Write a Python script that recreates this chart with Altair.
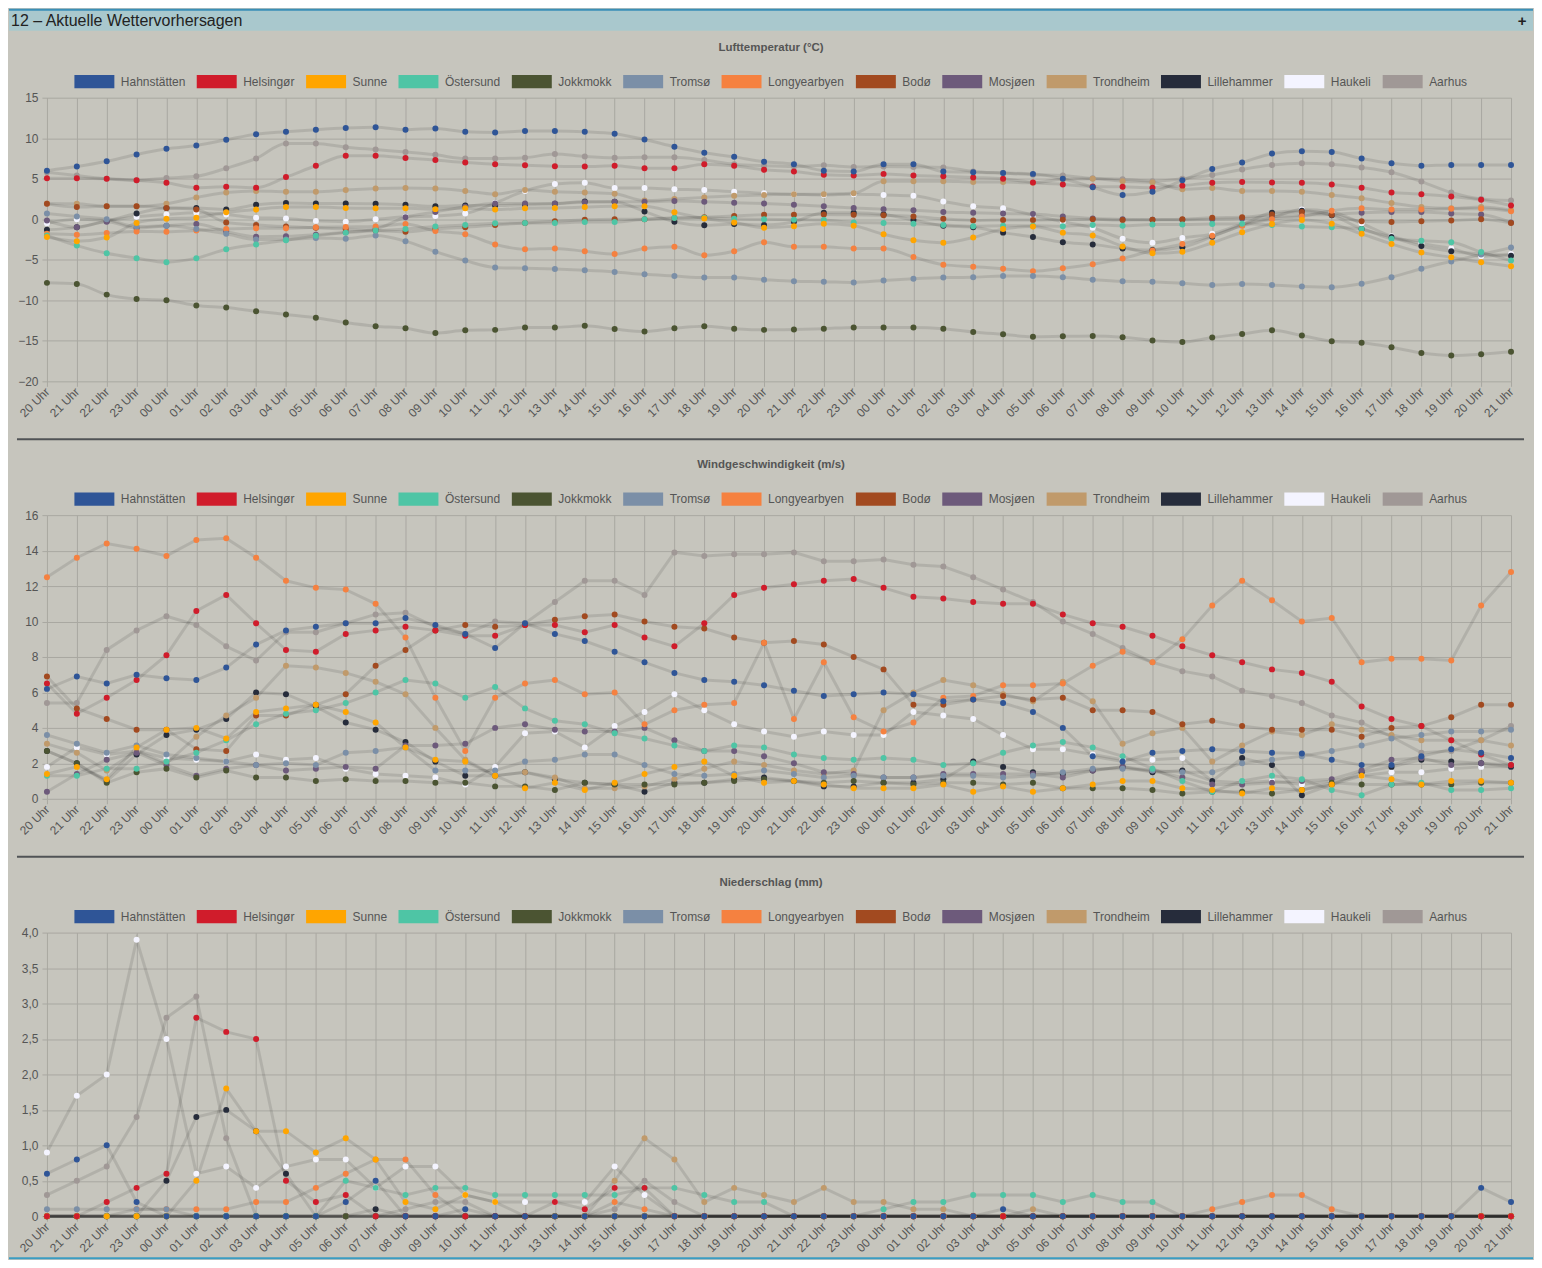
import altair as alt
import pandas as pd

# ---------------- data ----------------
HOUR_LABELS = ["20 Uhr", "21 Uhr", "22 Uhr", "23 Uhr", "00 Uhr", "01 Uhr", "02 Uhr", "03 Uhr", "04 Uhr", "05 Uhr",
               "06 Uhr", "07 Uhr", "08 Uhr", "09 Uhr", "10 Uhr", "11 Uhr", "12 Uhr", "13 Uhr", "14 Uhr", "15 Uhr",
               "16 Uhr", "17 Uhr", "18 Uhr", "19 Uhr", "20 Uhr", "21 Uhr", "22 Uhr", "23 Uhr", "00 Uhr", "01 Uhr",
               "02 Uhr", "03 Uhr", "04 Uhr", "05 Uhr", "06 Uhr", "07 Uhr", "08 Uhr", "09 Uhr", "10 Uhr", "11 Uhr",
               "12 Uhr", "13 Uhr", "14 Uhr", "15 Uhr", "16 Uhr", "17 Uhr", "18 Uhr", "19 Uhr", "20 Uhr", "21 Uhr"]

SERIES = ["Hahnstätten", "Helsingør", "Sunne", "Östersund", "Jokkmokk", "Tromsø", "Longyearbyen",
          "Bodø", "Mosjøen", "Trondheim", "Lillehammer", "Haukeli", "Aarhus"]
COLORS = ["#2f5597", "#d01c2b", "#ffa500", "#4ec5a5", "#4b5432", "#7b8fa7", "#f58140",
          "#a24a20", "#6d5a7b", "#c09a6b", "#262c3b", "#f4f4ff", "#a09896"]

# Lufttemperatur (°C)
T_HAHN = [6.0, 6.5, 7.15, 8.0, 8.7, 9.1, 9.8, 10.5, 10.8, 11.05, 11.25, 11.35, 11.05, 11.2, 10.8, 10.7, 10.9, 10.9, 10.8, 10.55,
          9.85, 8.95, 8.2, 7.7, 7.1, 6.8, 6.0, 5.9, 6.8, 6.8, 5.9, 5.8, 5.7, 5.6, 5.0, 3.95, 3.0, 3.4, 4.8, 6.2,
          7.0, 8.1, 8.4, 8.3, 7.5, 6.9, 6.6, 6.7, 6.7, 6.7]
T_HELS = [5.05, 5.05, 5.0, 4.8, 4.5, 3.9, 4.0, 3.9, 5.2, 6.6, 7.85, 7.85, 7.55, 7.3, 7.0, 6.8, 6.65, 6.55, 6.5, 6.6,
          6.3, 6.3, 6.8, 6.6, 6.1, 5.9, 5.5, 5.4, 5.6, 5.4, 5.3, 5.15, 5.0, 4.55, 4.3, 4.05, 4.0, 3.9, 4.15, 4.5,
          4.6, 4.55, 4.5, 4.3, 3.9, 3.3, 3.1, 2.8, 2.4, 1.7]
T_SUNN = [-2.2, -2.7, -2.25, -0.45, 0.05, 0.2, 0.85, 1.2, 1.5, 1.5, 1.4, 1.35, 1.35, 1.25, 1.35, 1.2, 1.35, 1.4, 1.5, 1.6,
          1.6, 0.85, 0.1, -0.4, -1.05, -0.85, -0.55, -0.8, -1.85, -2.6, -2.9, -2.25, -1.2, -0.9, -1.65, -2.0, -3.35, -4.2, -4.0, -2.9,
          -1.6, -0.6, -0.1, -0.55, -1.8, -3.05, -4.1, -4.7, -5.3, -5.8]
T_OEST = [-2.0, -3.25, -4.2, -4.8, -5.3, -4.8, -3.7, -3.1, -2.6, -2.05, -1.65, -1.4, -1.2, -0.9, -0.7, -0.5, -0.45, -0.45, -0.35, -0.35,
          0.0, 0.15, 0.2, 0.05, 0.0, -0.05, -0.1, -0.4, -0.45, -0.55, -0.7, -0.85, -0.8, -0.8, -0.85, -0.7, -0.8, -0.65, -0.65, -0.6,
          -0.55, -0.7, -0.9, -1.0, -1.2, -2.4, -2.65, -2.85, -4.05, -5.1]
T_JOKK = [-7.85, -8.0, -9.3, -9.85, -10.0, -10.65, -10.9, -11.35, -11.75, -12.15, -12.75, -13.2, -13.45, -14.05, -13.7, -13.65, -13.35, -13.35, -13.15, -13.55,
          -13.85, -13.45, -13.2, -13.5, -13.65, -13.6, -13.5, -13.35, -13.35, -13.35, -13.5, -13.9, -14.2, -14.5, -14.45, -14.4, -14.55, -14.95, -15.15, -14.6,
          -14.15, -13.7, -14.35, -15.05, -15.25, -15.8, -16.5, -16.8, -16.65, -16.35]
T_TROM = [0.7, 0.35, 0.0, -0.9, -0.8, -1.2, -1.8, -2.5, -2.5, -2.3, -2.4, -2.0, -2.7, -4.0, -5.1, -5.95, -6.05, -6.15, -6.3, -6.5,
          -6.8, -7.0, -7.2, -7.2, -7.45, -7.65, -7.7, -7.8, -7.55, -7.35, -7.2, -7.15, -7.0, -7.0, -7.15, -7.45, -7.65, -7.7, -7.9, -8.1,
          -8.0, -8.1, -8.3, -8.4, -7.95, -7.15, -6.1, -5.2, -4.35, -3.5]
T_LONG = [-1.8, -1.9, -1.7, -1.5, -1.55, -1.4, -1.2, -1.1, -1.1, -1.0, -0.95, -0.9, -0.6, -1.45, -1.85, -3.1, -3.7, -3.6, -3.95, -4.3,
          -3.6, -3.4, -4.45, -3.95, -2.85, -3.4, -3.4, -3.6, -3.6, -4.65, -5.6, -5.85, -6.1, -6.4, -6.05, -5.55, -4.85, -3.85, -3.05, -2.05,
          -0.8, 0.0, 0.35, 1.05, 1.35, 1.2, 1.2, 1.3, 1.3, 1.0]
T_BODO = [1.9, 1.5, 1.6, 1.6, 1.4, 1.2, -0.4, -0.7, -0.9, -1.05, -1.2, -1.4, -1.55, -1.2, -1.0, -0.7, -0.45, -0.25, -0.05, 0.0,
          0.0, 0.15, 0.25, 0.4, 0.55, 0.55, 0.6, 0.55, 0.5, 0.35, 0.05, -0.15, -0.1, -0.1, -0.05, 0.0, -0.1, -0.05, 0.0, 0.2,
          0.25, 0.6, 0.9, 0.55, -0.25, -0.35, -0.25, -0.15, 0.0, -0.45]
T_MOSJ = [-0.15, -1.0, -0.3, -1.1, -0.8, -0.6, -1.5, -2.15, -2.1, -1.9, -1.6, -1.2, 0.25, 0.9, 1.55, 1.95, 1.95, 1.95, 2.1, 2.15,
          2.15, 2.25, 2.15, 2.05, 1.95, 1.8, 1.6, 1.4, 1.25, 1.1, 0.9, 0.8, 0.7, 0.65, 0.35, 0.1, 0.0, -0.05, -0.05, 0.0,
          0.1, 0.3, 0.5, 0.6, 0.8, 0.9, 0.9, 0.7, 0.6, -0.4]
T_TROND = [1.95, 1.9, 1.6, 1.6, 1.9, 2.7, 3.3, 3.5, 3.4, 3.4, 3.6, 3.8, 3.85, 3.8, 3.5, 3.1, 3.6, 3.4, 3.3, 3.15,
           2.3, 2.5, 2.7, 2.9, 3.0, 3.1, 3.1, 3.2, 4.7, 4.7, 4.7, 4.6, 4.6, 4.5, 4.95, 5.0, 4.7, 4.55, 3.7, 3.85,
           3.5, 3.5, 3.4, 3.0, 2.6, 2.0, 1.5, 1.35, 1.5, 1.1]
T_LILLE = [-1.3, -1.0, -0.2, 0.7, 1.4, 1.4, 1.2, 1.8, 2.0, 1.95, 1.95, 1.9, 1.8, 1.6, 1.7, 1.7, 1.8, 1.9, 2.2, 2.15,
           0.95, -0.3, -0.75, -0.6, -0.7, -0.3, 0.8, 0.8, 0.6, -0.1, -0.8, -1.0, -1.65, -2.2, -2.85, -3.1, -3.6, -3.8, -3.45, -2.15,
           -0.7, 0.8, 1.05, 0.5, -1.2, -2.2, -3.3, -3.95, -4.3, -4.5]
T_HAUK = [-0.5, 0.0, -0.1, 0.3, 0.6, 0.8, 0.6, 0.2, 0.1, -0.2, -0.3, 0.0, 0.3, 0.4, 0.7, 2.0, 3.5, 4.35, 4.5, 3.85,
          3.85, 3.7, 3.6, 3.4, 3.2, 3.1, 3.0, 3.1, 3.0, 2.9, 2.2, 1.6, 1.35, 0.5, -0.3, -1.05, -2.4, -2.9, -2.3, -1.8,
          -0.6, 0.2, 1.2, 0.9, -0.5, -2.1, -3.0, -3.6, -4.55, -4.3]
T_AARH = [5.8, 5.4, 5.0, 4.8, 5.1, 5.3, 6.3, 7.5, 9.35, 9.35, 8.9, 8.6, 8.3, 7.95, 7.5, 7.5, 7.6, 8.05, 7.75, 7.6,
          7.65, 7.65, 7.3, 6.8, 6.6, 6.5, 6.65, 6.45, 6.5, 6.45, 6.4, 5.9, 5.7, 5.5, 5.4, 5.05, 4.95, 4.7, 5.0, 5.45,
          6.15, 6.7, 6.9, 6.8, 6.4, 5.8, 4.65, 3.3, 2.5, 2.3]

# Windgeschwindigkeit (m/s)
W_HAHN = [6.2, 6.9, 6.5, 7.0, 6.8, 6.7, 7.4, 8.7, 9.5, 9.7, 9.9, 9.9, 10.2, 9.8, 9.3, 8.5, 9.9, 9.3, 8.9, 8.3,
          7.7, 7.1, 6.7, 6.6, 6.4, 6.1, 5.8, 5.9, 6.0, 5.9, 5.5, 5.6, 5.4, 4.9, 4.0, 2.4, 2.1, 2.6, 2.7, 2.8,
          2.7, 2.6, 2.55, 2.2, 1.9, 1.9, 2.4, 2.8, 2.6, 2.3]
W_HELS = [6.5, 4.8, 5.7, 6.7, 8.1, 10.6, 11.5, 9.9, 8.4, 8.3, 9.3, 9.5, 9.7, 9.5, 9.2, 9.2, 9.8, 9.8, 9.4, 9.8,
          9.1, 8.6, 9.9, 11.5, 11.9, 12.1, 12.3, 12.4, 11.9, 11.4, 11.3, 11.1, 11.0, 11.0, 10.4, 9.9, 9.7, 9.2, 8.6, 8.1,
          7.7, 7.3, 7.1, 6.6, 5.2, 4.5, 4.1, 3.3, 2.5, 1.9]
W_SUNN = [1.4, 1.8, 1.1, 2.9, 3.9, 4.0, 3.4, 4.9, 5.1, 5.3, 4.9, 4.3, 2.9, 2.2, 2.1, 1.3, 0.6, 0.9, 0.5, 0.9,
          1.4, 1.8, 2.1, 1.3, 0.9, 1.0, 0.8, 0.6, 0.6, 0.6, 0.8, 0.4, 0.7, 0.4, 0.6, 0.8, 1.0, 1.0, 0.6, 0.5,
          0.3, 0.6, 0.5, 0.8, 1.3, 1.1, 0.8, 1.0, 1.0, 0.9]
W_OEST = [1.3, 1.3, 1.7, 1.7, 2.1, 2.6, 3.3, 4.2, 4.8, 5.0, 5.4, 6.0, 6.7, 6.5, 5.7, 6.3, 5.1, 4.4, 4.2, 3.7,
          3.4, 3.0, 2.7, 3.0, 2.9, 2.5, 2.3, 2.2, 2.3, 2.2, 1.9, 2.0, 2.6, 3.0, 3.2, 2.9, 2.4, 1.7, 1.0, 0.4,
          1.0, 1.3, 1.1, 0.5, 0.2, 0.8, 0.9, 0.5, 0.5, 0.6]
W_JOKK = [2.7, 2.0, 0.9, 1.5, 1.7, 1.2, 1.6, 1.2, 1.2, 1.0, 1.1, 1.0, 1.0, 0.9, 0.9, 0.7, 0.7, 0.5, 0.9, 0.8,
          0.8, 0.8, 0.9, 1.0, 1.1, 1.0, 0.9, 1.0, 0.9, 0.8, 0.9, 0.9, 0.8, 0.9, 0.6, 0.6, 0.6, 0.5, 0.3, 0.4,
          0.4, 0.3, 0.5, 0.9, 0.8, 0.8, 0.8, 0.8, 0.9, 0.9]
W_TROM = [3.6, 3.1, 2.6, 3.0, 2.5, 2.3, 2.1, 1.9, 2.0, 1.9, 2.6, 2.7, 2.9, 1.6, 1.6, 1.6, 2.1, 2.2, 2.5, 2.5,
          1.9, 1.4, 1.3, 1.4, 1.6, 1.4, 1.2, 1.3, 1.2, 1.2, 1.3, 1.3, 1.2, 1.3, 1.5, 1.7, 1.7, 1.6, 1.5, 1.5,
          2.0, 2.2, 2.4, 2.7, 3.0, 3.4, 3.6, 3.8, 3.8, 3.9]
W_LONG = [12.5, 13.6, 14.4, 14.1, 13.7, 14.6, 14.7, 13.6, 12.3, 11.9, 11.8, 11.0, 9.1, 5.7, 2.7, 5.7, 6.5, 6.7, 5.9, 6.0,
          4.2, 5.0, 5.3, 5.4, 8.8, 4.5, 7.7, 4.6, 3.8, 4.3, 5.7, 5.8, 6.4, 6.4, 6.5, 7.5, 8.3, 7.7, 9.0, 10.9,
          12.3, 11.2, 10.0, 10.2, 7.7, 7.9, 7.9, 7.8, 10.9, 12.8]
W_BODO = [6.9, 5.1, 4.5, 3.9, 3.9, 2.8, 2.7, 4.7, 4.7, 5.3, 5.9, 7.5, 8.4, 9.5, 9.8, 9.7, 9.8, 10.1, 10.3, 10.4,
          10.0, 9.7, 9.6, 9.1, 8.8, 8.9, 8.7, 8.0, 7.3, 5.3, 5.3, 5.6, 5.8, 5.6, 5.7, 5.0, 5.0, 4.9, 4.2, 4.4,
          4.1, 3.9, 3.9, 3.9, 3.5, 4.0, 4.1, 4.6, 5.3, 5.3]
W_MOSJ = [0.4, 1.4, 2.2, 2.6, 1.9, 1.3, 1.7, 1.9, 1.6, 1.7, 1.8, 1.7, 3.0, 3.0, 3.1, 4.0, 4.2, 3.9, 3.8, 3.8,
          4.0, 3.3, 2.7, 2.7, 2.4, 2.0, 1.5, 1.4, 1.2, 1.2, 1.4, 1.4, 1.4, 1.4, 1.2, 1.6, 1.8, 1.6, 1.2, 0.8,
          0.8, 0.9, 1.0, 1.1, 1.6, 2.2, 2.3, 1.9, 2.0, 1.9]
W_TROND = [3.1, 2.6, 1.6, 2.7, 2.0, 3.5, 4.7, 5.7, 7.5, 7.4, 7.1, 6.6, 5.9, 4.0, 2.2, 1.3, 1.5, 1.2, 0.6, 0.6,
           0.7, 1.1, 1.7, 2.1, 1.9, 1.6, 1.4, 1.6, 5.0, 6.0, 6.7, 6.4, 5.9, 5.5, 6.6, 5.5, 3.1, 3.7, 4.0, 2.1,
           3.0, 3.8, 3.6, 4.2, 3.9, 3.6, 3.3, 3.3, 3.3, 3.0]
W_LILLE = [2.7, 2.0, 1.0, 2.5, 3.6, 3.9, 4.5, 6.0, 5.9, 5.2, 4.3, 3.9, 3.2, 2.1, 1.3, 1.3, 1.5, 1.1, 0.9, 0.8,
           0.4, 0.9, 0.9, 1.1, 1.2, 1.0, 0.7, 0.7, 0.9, 0.9, 1.1, 2.1, 1.8, 1.5, 1.4, 1.6, 1.8, 1.5, 1.6, 1.0,
           2.3, 1.9, 0.2, 0.8, 1.5, 1.8, 2.2, 2.1, 2.0, 1.8]
W_HAUK = [1.8, 2.9, 2.5, 2.7, 2.3, 2.2, 2.1, 2.5, 2.2, 2.3, 1.7, 1.4, 1.3, 1.2, 0.8, 1.8, 3.7, 3.8, 2.9, 4.1,
          4.9, 5.9, 5.0, 4.2, 3.8, 3.5, 3.8, 3.6, 3.6, 4.9, 4.7, 4.5, 3.6, 2.8, 2.8, 2.5, 2.2, 2.2, 2.3, 1.0,
          0.9, 1.0, 0.8, 1.0, 1.3, 1.5, 1.5, 1.7, 1.8, 1.8]
W_AARH = [5.4, 5.4, 8.4, 9.5, 10.3, 9.8, 8.6, 7.8, 9.4, 9.4, 9.9, 10.4, 10.5, 9.7, 9.3, 10.0, 9.9, 11.1, 12.3, 12.3,
          11.5, 13.9, 13.7, 13.8, 13.8, 13.9, 13.4, 13.4, 13.5, 13.2, 13.1, 12.5, 11.8, 11.1, 10.0, 9.3, 8.5, 7.7, 7.2, 6.9,
          6.1, 5.8, 5.4, 4.7, 4.3, 3.5, 2.6, 2.7, 3.3, 4.1]

# Niederschlag (mm)
P_HAHN = [0.6, 0.8, 1.0, 0.2, 0, 0, 0, 0, 0, 0, 0.2, 0.5, 0, 0, 0.1, 0, 0, 0, 0, 0,
          0, 0, 0, 0, 0, 0, 0, 0, 0, 0, 0, 0, 0.1, 0, 0, 0, 0, 0, 0, 0,
          0, 0, 0, 0, 0, 0, 0, 0, 0.4, 0.2]
P_HELS = [0, 0, 0.2, 0.4, 0.6, 2.8, 2.6, 2.5, 0.5, 0.2, 0.3, 0, 0, 0, 0, 0, 0, 0.2, 0.1, 0.4,
          0.4, 0, 0, 0, 0, 0, 0, 0, 0, 0, 0, 0, 0, 0, 0, 0, 0, 0, 0, 0,
          0, 0, 0, 0, 0, 0, 0, 0, 0, 0]
P_SUNN = [0, 0, 0, 0, 0, 0.5, 1.8, 1.2, 1.2, 0.9, 1.1, 0.8, 0.2, 0.1, 0.3, 0.2, 0, 0, 0, 0,
          0, 0, 0, 0, 0, 0, 0, 0, 0, 0, 0, 0, 0, 0, 0, 0, 0, 0, 0, 0,
          0, 0, 0, 0, 0, 0, 0, 0, 0, 0]
P_OEST = [0, 0, 0, 0, 0, 0, 0, 0, 0, 0, 0.5, 0.4, 0.3, 0.4, 0.4, 0.3, 0.3, 0.3, 0.3, 0.3,
          0.4, 0.4, 0.3, 0.2, 0.2, 0, 0, 0, 0.1, 0.2, 0.2, 0.3, 0.3, 0.3, 0.2, 0.3, 0.2, 0.2, 0, 0,
          0, 0, 0, 0, 0, 0, 0, 0, 0, 0]
P_JOKK = [0, 0, 0, 0, 0, 0, 0, 0, 0, 0, 0, 0, 0, 0, 0, 0, 0, 0, 0, 0,
          0, 0, 0, 0, 0, 0, 0, 0, 0, 0, 0, 0, 0, 0, 0, 0, 0, 0, 0, 0,
          0, 0, 0, 0, 0, 0, 0, 0, 0, 0]
P_TROM = [0.1, 0.1, 0.1, 0.1, 0.1, 0, 0, 0, 0, 0, 0, 0, 0, 0, 0, 0, 0, 0, 0, 0,
          0, 0, 0, 0, 0, 0, 0, 0, 0, 0, 0, 0, 0, 0, 0, 0, 0, 0, 0, 0,
          0, 0, 0, 0, 0, 0, 0, 0, 0, 0]
P_LONG = [0, 0, 0, 0.1, 0.1, 0.1, 0.1, 0.2, 0.2, 0.4, 0.6, 0.8, 0.8, 0.3, 0, 0, 0, 0, 0, 0.2,
          0.1, 0, 0, 0, 0, 0, 0, 0, 0, 0, 0, 0, 0, 0, 0, 0, 0, 0, 0, 0.1,
          0.2, 0.3, 0.3, 0.1, 0, 0, 0, 0, 0, 0]
P_BODO = [0, 0, 0, 0, 0, 0, 0, 0, 0, 0, 0, 0, 0, 0, 0, 0, 0, 0, 0, 0,
          0, 0, 0, 0, 0, 0, 0, 0, 0, 0, 0, 0, 0, 0, 0, 0, 0, 0, 0, 0,
          0, 0, 0, 0, 0, 0, 0, 0, 0, 0]
P_MOSJ = [0, 0, 0, 0, 0, 0, 0, 0, 0, 0, 0, 0, 0, 0, 0, 0, 0, 0, 0, 0,
          0, 0, 0, 0, 0, 0, 0, 0, 0, 0, 0, 0, 0, 0, 0, 0, 0, 0, 0, 0,
          0, 0, 0, 0, 0, 0, 0, 0, 0, 0]
P_TROND = [0, 0, 0, 0, 0, 0, 0, 0, 0, 0, 0, 0, 0, 0, 0, 0, 0, 0, 0, 0.5,
           1.1, 0.8, 0.2, 0.4, 0.3, 0.2, 0.4, 0.2, 0.2, 0.1, 0.1, 0, 0, 0.1, 0, 0, 0, 0, 0, 0,
           0, 0, 0, 0, 0, 0, 0, 0, 0, 0]
P_LILLE = [0, 0, 0, 0, 0.5, 1.4, 1.5, 1.2, 0.6, 0, 0, 0.1, 0, 0, 0, 0, 0, 0, 0, 0,
           0, 0, 0, 0, 0, 0, 0, 0, 0, 0, 0, 0, 0, 0, 0, 0, 0, 0, 0, 0,
           0, 0, 0, 0, 0, 0, 0, 0, 0, 0]
P_HAUK = [0.9, 1.7, 2.0, 3.9, 2.5, 0.6, 0.7, 0.4, 0.7, 0.8, 0.8, 0.4, 0.7, 0.7, 0.3, 0.2, 0.2, 0.2, 0.2, 0.7,
          0.3, 0, 0, 0, 0, 0, 0, 0, 0, 0, 0, 0, 0, 0, 0, 0, 0, 0, 0, 0,
          0, 0, 0, 0, 0, 0, 0, 0, 0, 0]
P_AARH = [0.3, 0.5, 0.7, 1.4, 2.8, 3.1, 1.1, 0, 0, 0, 0, 0, 0.1, 0.2, 0.2, 0, 0, 0, 0, 0.1,
          0.5, 0.2, 0, 0, 0, 0, 0, 0, 0, 0, 0, 0, 0, 0, 0, 0, 0, 0, 0, 0,
          0, 0, 0, 0, 0, 0, 0, 0, 0, 0]

TEMP = [T_HAHN, T_HELS, T_SUNN, T_OEST, T_JOKK, T_TROM, T_LONG, T_BODO, T_MOSJ, T_TROND, T_LILLE, T_HAUK, T_AARH]
WIND = [W_HAHN, W_HELS, W_SUNN, W_OEST, W_JOKK, W_TROM, W_LONG, W_BODO, W_MOSJ, W_TROND, W_LILLE, W_HAUK, W_AARH]
PREC = [P_HAHN, P_HELS, P_SUNN, P_OEST, P_JOKK, P_TROM, P_LONG, P_BODO, P_MOSJ, P_TROND, P_LILLE, P_HAUK, P_AARH]

# ---------------- styling ----------------
BG = "#c6c5bd"
GRID = "#a9a8a1"
TXT = "#555555"
FONT = "Liberation Sans"
W, H = 1466, 284
LEFT, RIGHT = -38, 1488

LABEL_EXPR = "[" + ",".join("'" + s + "'" for s in HOUR_LABELS) + "][datum.value]"


def long_frame(values):
    rows = []
    # first series drawn last (on top), like the original
    for name, vals in reversed(list(zip(SERIES, values))):
        for i, v in enumerate(vals):
            rows.append({"series": name, "idx": i, "value": v})
    return pd.DataFrame(rows)


def one_row():
    return pd.DataFrame({"k": [0]})


def panel(values, title, ydomain, yvalues, ylabel_expr, interp, header=False, separator=True, bottom_line=False):
    df = long_frame(values)
    base = alt.Chart(df)
    x = alt.X("idx:Q", scale=alt.Scale(domain=[0, 49], nice=False, zero=False),
              axis=alt.Axis(values=list(range(50)), labelExpr=LABEL_EXPR, labelAngle=315,
                            labelAlign="right", labelBaseline="middle", labelPadding=3,
                            labelFontSize=12, labelColor=TXT, labelFont=FONT,
                            labelOverlap=False, labelFlush=False, labelBound=False,
                            grid=True, gridColor=GRID, gridWidth=1, tickColor=GRID, tickSize=5,
                            domain=False, title=None))
    yaxis = dict(values=yvalues, grid=True, gridColor=GRID, gridWidth=1, tickColor=GRID, tickSize=5,
                 domain=False, title=None, labelFontSize=12, labelColor=TXT, labelFont=FONT,
                 labelPadding=4, labelFlush=False)
    if ylabel_expr:
        yaxis["labelExpr"] = ylabel_expr
    y = alt.Y("value:Q", scale=alt.Scale(domain=ydomain, nice=False, zero=False), axis=alt.Axis(**yaxis))

    lines = base.mark_line(interpolate=interp, strokeWidth=3, color="black", opacity=0.1).encode(
        x=x, y=y, detail="series:N")
    pts = base.mark_point(filled=True, size=36, opacity=1, strokeWidth=0).encode(
        x=x, y=y,
        color=alt.Color("series:N", scale=alt.Scale(domain=SERIES, range=COLORS),
                        legend=alt.Legend(title=None, orient="none", legendX=27, legendY=-37,
                                          direction="horizontal",
                                          symbolType="M-1,-0.33H1V0.33H-1Z", symbolSize=1600,
                                          symbolStrokeWidth=1, symbolOpacity=1,
                                          labelFont=FONT, labelFontSize=12, labelColor=TXT,
                                          labelOffset=6, columnPadding=10.5, labelLimit=200)))
    ttl = alt.Chart(pd.DataFrame({"t": [title]})).mark_text(
        font=FONT, fontSize=11.5, fontWeight="bold", color=TXT, align="center", baseline="middle"
    ).encode(text="t:N", x=alt.value(725), y=alt.value(-50))

    layers = [lines, pts, ttl]
    if header:
        layers.append(alt.Chart(one_row()).mark_rect(color="#a9c8cd").encode(
            x=alt.value(LEFT), x2=alt.value(RIGHT), y=alt.value(-89), y2=alt.value(-67)))
        layers.append(alt.Chart(one_row()).mark_rule(color="#3a8fb7", strokeWidth=2).encode(
            x=alt.value(LEFT), x2=alt.value(RIGHT), y=alt.value(-88)))
        layers.append(alt.Chart(pd.DataFrame({"t": ["12 – Aktuelle Wettervorhersagen"]})).mark_text(
            font=FONT, fontSize=16, color="#222222", align="left", baseline="middle"
        ).encode(text="t:N", x=alt.value(-36), y=alt.value(-77)))
        layers.append(alt.Chart(pd.DataFrame({"t": ["+"]})).mark_text(
            font=FONT, fontSize=15, fontWeight="bold", color="#222222", align="center", baseline="middle"
        ).encode(text="t:N", x=alt.value(1477), y=alt.value(-77)))
    else:
        layers.append(alt.Chart(one_row()).mark_rect(opacity=0).encode(
            x=alt.value(LEFT), x2=alt.value(RIGHT), y=alt.value(-75), y2=alt.value(-74)))
    if separator:
        layers.append(alt.Chart(one_row()).mark_rule(color="#505356", strokeWidth=2).encode(
            x=alt.value(-30), x2=alt.value(1479), y=alt.value(342)))
    if bottom_line:
        layers.append(alt.Chart(one_row()).mark_rule(color="#3a9cc2", strokeWidth=2).encode(
            x=alt.value(LEFT), x2=alt.value(RIGHT), y=alt.value(326)))
    return alt.layer(*layers).properties(width=W, height=H)


p1 = panel(TEMP, "Lufttemperatur (°C)", [-20, 15], [-20, -15, -10, -5, 0, 5, 10, 15], None,
           "monotone", header=True)
p2 = panel(WIND, "Windgeschwindigkeit (m/s)", [0, 16], [0, 2, 4, 6, 8, 10, 12, 14, 16], None, "linear")
p3 = panel(PREC, "Niederschlag (mm)", [0, 4], [0, 0.5, 1, 1.5, 2, 2.5, 3, 3.5, 4],
           "datum.value == 0 ? '0' : replace(format(datum.value, '.1f'), '.', ',')", "linear",
           separator=False, bottom_line=True)

chart = alt.vconcat(p1, p2, p3, spacing=0).resolve_scale(color="independent").properties(
    background=BG, padding=0
).configure_view(strokeWidth=0)

chart.save("out.html", embed_options={"renderer": "svg", "actions": False})
